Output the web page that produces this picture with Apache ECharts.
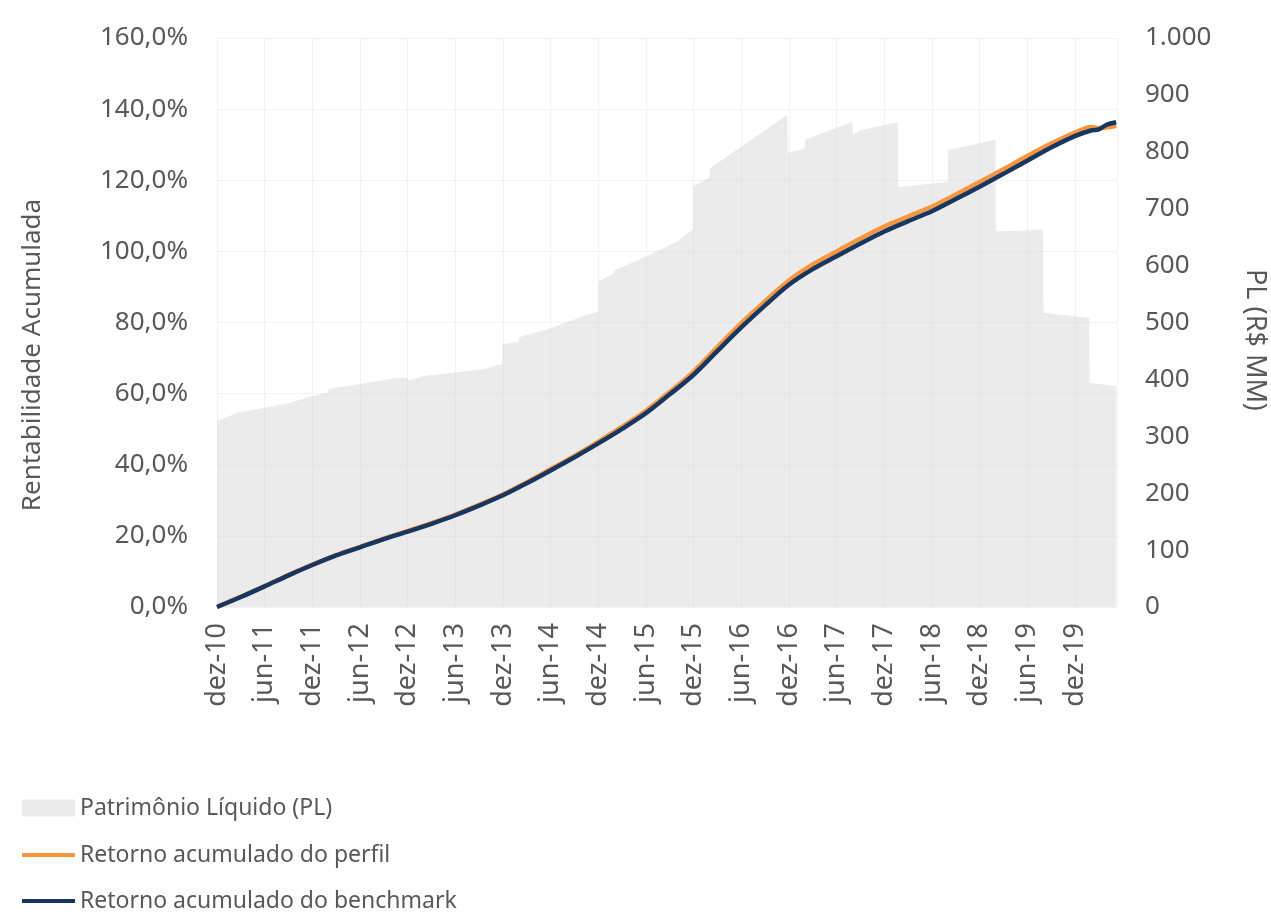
<!DOCTYPE html>
<html>
<head>
<meta charset="utf-8">
<title>Rentabilidade Acumulada</title>
<script src="https://cdn.jsdelivr.net/npm/echarts@6/dist/echarts.min.js"></script>
<style>
  html, body { margin: 0; padding: 0; background: #fff; }
  #chart { width: 1271px; height: 914px; }
</style>
</head>
<body>
<div id="chart"></div>
<script>
// x = meses desde dez-10
const tickLabels = ['dez-10', 'jun-11', 'dez-11', 'jun-12', 'dez-12', 'jun-13', 'dez-13', 'jun-14', 'dez-14',
  'jun-15', 'dez-15', 'jun-16', 'dez-16', 'jun-17', 'dez-17', 'jun-18', 'dez-18', 'jun-19', 'dez-19']

// Patrimônio Líquido (R$ MM)
const plMonths = [0, 2.5, 6, 9, 12, 14, 14.05, 18, 22.5, 24, 24.05, 26, 30, 33.5, 35.9, 35.95, 38, 38.05,
  42, 46.5, 48, 48.05, 50, 50.05, 54, 58, 59.9, 59.95, 62, 62.05, 66, 71.8, 71.85, 74, 74.05, 80, 80.05, 81,
  85.7, 85.75, 92, 92.05, 98, 98.05, 104, 104.05, 109.8, 109.85, 113.2]
const plValues = [327, 341, 350, 358, 371, 377, 383, 392, 402, 403, 398, 406, 412, 418, 427, 462, 466, 474,
  490, 513, 519, 572, 587, 592, 616, 643, 664, 739, 755, 771, 809, 865, 798, 806, 821, 853, 829, 838,
  852, 738, 747, 803, 821, 660, 663, 517, 508, 394, 388]

// retornos acumulados (%)
const retMonths = [0, 3, 6, 9, 12, 15, 18, 21, 24, 27, 30, 33, 36, 39, 42, 45, 48, 51, 54, 57, 60, 63, 66,
  69, 72, 75, 78, 81, 84, 87, 90, 93, 96, 99, 102, 105, 108, 110, 111, 112, 113.2]
const perfil = [0, 2.9, 5.9, 9.0, 11.9, 14.6, 16.9, 19.2, 21.4, 23.6, 26.0, 28.7, 31.7, 35.1, 38.8, 42.5,
  46.5, 50.7, 55.2, 60.5, 66.2, 73.1, 79.8, 86.0, 91.8, 96.3, 100.0, 103.6, 107.0, 109.8, 112.6, 116.0,
  119.5, 123.1, 126.8, 130.3, 133.4, 135.0, 134.7, 134.8, 135.3]
const benchmark = [0, 2.8, 5.8, 8.9, 11.8, 14.5, 16.8, 19.1, 21.2, 23.4, 25.8, 28.5, 31.4, 34.8, 38.4, 42.1,
  46.0, 50.1, 54.5, 59.8, 65.3, 72.0, 78.6, 84.8, 90.6, 95.0, 98.6, 102.2, 105.6, 108.5, 111.3, 114.7,
  118.2, 121.8, 125.5, 129.2, 132.4, 134.0, 134.3, 135.6, 136.3]

const FONT = '"Noto Sans", "Open Sans", sans-serif'
const TEXT_COLOR = '#595959'
const PL_NAME = 'Patrimônio Líquido (PL)'
const PERFIL_NAME = 'Retorno acumulado do perfil'
const BENCH_NAME = 'Retorno acumulado do benchmark'

const pairs = (xs, ys) => xs.map((x, i) => [x, ys[i]])

const chart = echarts.init(document.getElementById('chart'))

const legendText = { fontFamily: FONT, fontSize: 23, color: TEXT_COLOR, lineHeight: 24 }

const option = {
  animation: false,
  textStyle: { fontFamily: FONT, color: TEXT_COLOR },
  grid: { left: 217, right: 154, top: 38, bottom: 307, containLabel: false },
  legend: [
    {
      orient: 'vertical',
      left: 22,
      top: 796,
      padding: 0,
      itemWidth: 53,
      itemHeight: 17,
      textStyle: legendText,
      data: [{ name: PL_NAME, icon: 'rect', itemStyle: { color: '#ebebeb' } }]
    },
    {
      orient: 'vertical',
      left: 22,
      top: 843,
      padding: 0,
      itemWidth: 53,
      itemHeight: 4,
      itemGap: 22,
      textStyle: legendText,
      data: [
        { name: PERFIL_NAME, icon: 'rect' },
        { name: BENCH_NAME, icon: 'rect' }
      ]
    }
  ],
  xAxis: {
    type: 'value',
    min: 0,
    max: 113.3,
    interval: 6,
    axisLine: { show: false },
    axisTick: { show: false },
    splitLine: { show: true, lineStyle: { color: '#f2f2f2', width: 1 } },
    axisLabel: {
      rotate: 90,
      margin: 16,
      fontSize: 27,
      color: TEXT_COLOR,
      fontFamily: FONT,
      showMaxLabel: false,
      formatter: (v) => tickLabels[Math.round(v / 6)] || ''
    }
  },
  yAxis: [
    {
      type: 'value',
      min: 0,
      max: 160,
      interval: 20,
      axisLine: { show: false },
      axisTick: { show: false },
      splitLine: { show: true, lineStyle: { color: '#f2f2f2', width: 1 } },
      axisLabel: {
        margin: 29,
        fontSize: 26,
        color: TEXT_COLOR,
        fontFamily: FONT,
        formatter: (v) => v.toFixed(1).replace('.', ',') + '%'
      }
    },
    {
      type: 'value',
      min: 0,
      max: 1000,
      interval: 100,
      position: 'right',
      axisLine: { show: false },
      axisTick: { show: false },
      splitLine: { show: false },
      axisLabel: {
        margin: 28,
        fontSize: 26,
        color: TEXT_COLOR,
        fontFamily: FONT,
        formatter: (v) => v >= 1000 ? (v / 1000) + '.' + String(v % 1000).padStart(3, '0') : String(v)
      }
    }
  ],
  graphic: [
    {
      type: 'text',
      x: 33,
      y: 355,
      rotation: Math.PI / 2,
      style: {
        text: 'Rentabilidade Acumulada',
        fontFamily: FONT,
        fontSize: 26,
        fill: TEXT_COLOR,
        textAlign: 'center',
        textVerticalAlign: 'middle'
      }
    },
    {
      type: 'text',
      x: 1255,
      y: 340,
      rotation: -Math.PI / 2,
      style: {
        text: 'PL (R$ MM)',
        fontFamily: FONT,
        fontSize: 27,
        fill: TEXT_COLOR,
        textAlign: 'center',
        textVerticalAlign: 'middle'
      }
    }
  ],
  series: [
    {
      name: PL_NAME,
      type: 'line',
      yAxisIndex: 1,
      data: pairs(plMonths, plValues),
      symbol: 'none',
      lineStyle: { width: 0 },
      itemStyle: { color: '#ebebeb' },
      areaStyle: { color: 'rgba(211,211,211,0.46)', opacity: 1 },
      z: 1
    },
    {
      name: PERFIL_NAME,
      type: 'line',
      yAxisIndex: 0,
      data: pairs(retMonths, perfil),
      symbol: 'none',
      smooth: 0.3,
      itemStyle: { color: '#f8973f' },
      lineStyle: { color: '#f8973f', width: 4.5 },
      z: 3
    },
    {
      name: BENCH_NAME,
      type: 'line',
      yAxisIndex: 0,
      data: pairs(retMonths, benchmark),
      symbol: 'none',
      smooth: 0.3,
      itemStyle: { color: '#173760' },
      lineStyle: { color: '#173760', width: 4.5 },
      z: 4
    }
  ]
}

chart.setOption(option)

window.addEventListener('resize', () => {
  chart.resize()
})
</script>
</body>
</html>
